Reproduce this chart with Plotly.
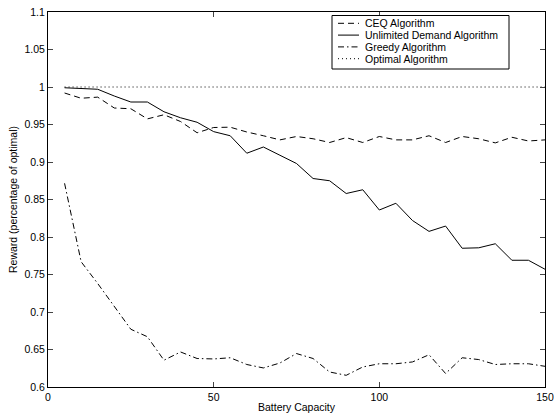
import plotly.graph_objects as go

capacity = list(range(5, 155, 5))

ceq = [0.992, 0.985, 0.9865, 0.972, 0.971, 0.9575, 0.963, 0.954, 0.939, 0.946,
       0.9464, 0.940, 0.935, 0.9295, 0.934, 0.931, 0.926, 0.9325, 0.926, 0.934,
       0.9295, 0.9295, 0.935, 0.926, 0.934, 0.931, 0.9255, 0.933, 0.928, 0.9295]

unlimited = [0.999, 0.998, 0.997, 0.988, 0.980, 0.980, 0.967, 0.959, 0.953, 0.9405,
             0.935, 0.9117, 0.920, 0.909, 0.898, 0.878, 0.875, 0.858, 0.863, 0.836,
             0.845, 0.822, 0.8075, 0.8146, 0.785, 0.7856, 0.791, 0.769, 0.769, 0.757]

greedy = [0.8716, 0.767, 0.738, 0.707, 0.677, 0.667, 0.6357, 0.6467, 0.638, 0.6374,
          0.639, 0.630, 0.6254, 0.632, 0.6446, 0.638, 0.620, 0.6156, 0.6267, 0.631,
          0.631, 0.6334, 0.643, 0.618, 0.639, 0.6366, 0.630, 0.631, 0.631, 0.6276]

optimal = [1.0] * len(capacity)

names = ["CEQ Algorithm", "Unlimited Demand Algorithm", "Greedy Algorithm", "Optimal Algorithm"]
dashes = ["6px,4px", "solid", "6px,3px,1.5px,3px", "1px,3px"]

y_ticks = [0.6, 0.65, 0.7, 0.75, 0.8, 0.85, 0.9, 0.95, 1.0, 1.05, 1.1]
y_labels = ["0.6", "0.65", "0.7", "0.75", "0.8", "0.85", "0.9", "0.95", "1", "1.05", "1.1"]
x_ticks = [0, 50, 100, 150]

FONT = "Liberation Sans, Arial, Helvetica, sans-serif"

fig = go.Figure()
for series, name, dash in zip([ceq, unlimited, greedy, optimal], names, dashes):
    fig.add_trace(go.Scatter(x=capacity, y=series, mode="lines", name=name,
                             line=dict(color="black", width=1, dash=dash),
                             showlegend=False))

W, H = 554, 417
L, R, T, B = 48, 9, 12, 30
pw, ph = W - L - R, H - T - B

def px2x(px):
    return (px - L) / pw

def py2y(py):
    return (H - B - py) / ph

shapes = [dict(type="rect", xref="paper", yref="paper",
               x0=px2x(332), x1=px2x(509), y0=py2y(69), y1=py2y(15.5),
               line=dict(color="black", width=1), fillcolor="white", layer="above")]
annotations = []
rows = [23.3, 35.1, 46.9, 58.7]
for name, dash, py in zip(names, dashes, rows):
    shapes.append(dict(type="line", xref="paper", yref="paper",
                       x0=px2x(338), x1=px2x(359), y0=py2y(py), y1=py2y(py),
                       line=dict(color="black", width=1, dash=dash), layer="above"))
    annotations.append(dict(xref="paper", yref="paper", x=px2x(364), y=py2y(py),
                            text=name, showarrow=False, xanchor="left", yanchor="middle",
                            borderpad=0,
                            font=dict(family=FONT, size=10.5, color="black")))

fig.update_layout(
    width=W, height=H,
    margin=dict(l=L, r=R, t=T, b=B, pad=0),
    paper_bgcolor="white", plot_bgcolor="white",
    font=dict(family=FONT, size=10.5, color="black"),
    shapes=shapes, annotations=annotations,
    xaxis=dict(range=[0, 150], tickvals=x_ticks, ticks="inside", ticklen=5,
               showline=True, linecolor="black", linewidth=1, mirror="ticks",
               showgrid=False, zeroline=False, automargin=False,
               tickfont=dict(family=FONT, size=10.5),
               title=dict(text="Battery Capacity", standoff=2,
                          font=dict(family=FONT, size=10.5))),
    yaxis=dict(range=[0.6, 1.1], tickvals=y_ticks, ticktext=y_labels,
               ticks="inside", ticklen=5,
               showline=True, linecolor="black", linewidth=1, mirror="ticks",
               showgrid=False, zeroline=False, automargin=False,
               tickfont=dict(family=FONT, size=10.5),
               title=dict(text="Reward (percentage of optimal)", standoff=4,
                          font=dict(family=FONT, size=10.5))),
)

fig.write_html("out.html")
